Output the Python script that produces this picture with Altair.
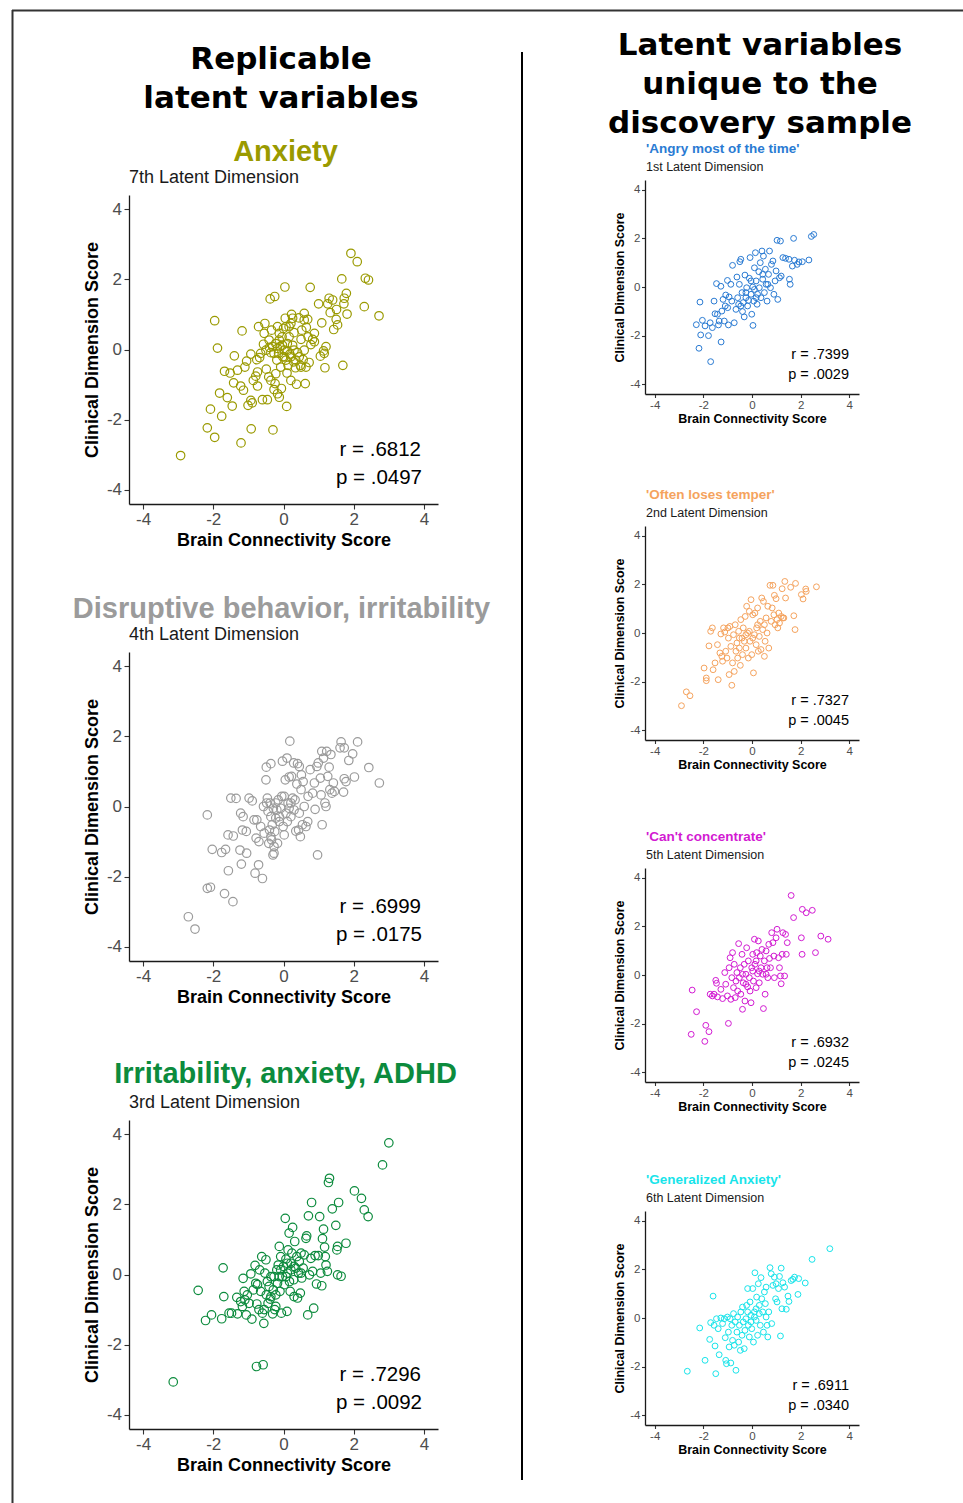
import altair as alt
import pandas as pd

# ---------------------------------------------------------------------------
# Scores per latent dimension: brain connectivity (x) vs clinical dimension (y)
# ---------------------------------------------------------------------------
anx_x = [-2.93, -2.17, -1.96, -2.08, -1.76, -1.82, -1.60, -1.46, -1.96, -1.88, -1.68, -1.52, -1.42, -1.40,
         -1.31, -1.18, -1.22, -1.14, -1.21, -1.10, -1.05, -1.01, -0.93, -0.92, -0.89, -0.93, -0.86, -0.79,
         -0.76, -0.74, -0.71, -0.68, -0.60, -0.57, -0.55, -0.53, -0.49, -0.46, -0.42, -0.40, -0.38, -0.36,
         -0.34, -0.30, -0.27, -0.25, -0.24, -0.22, -0.19, -0.17, -0.14, -0.12, -0.10, -0.08, -0.06, -0.04,
         -0.02, 0.00, 0.02, 0.04, 0.05, 0.07, 0.09, 0.10, 0.11, 0.13, 0.16, 0.18, 0.21, 0.23, 0.26, 0.29,
         0.30, 0.34, 0.37, 0.40, 0.44, 0.48, 0.50, 0.52, 0.56, 0.59, 0.62, 0.65, 0.69, 0.70, 0.73, 0.76,
         0.78, 0.83, 0.88, 1.00, 1.05, 1.09, 1.14, 1.18, 1.21, 1.26, 1.30, 1.33, 1.40, 1.43, 1.50, 1.51,
         1.54, 1.66, 1.69, 1.72, 1.73, 1.79, 1.81, 1.92, 2.10, 2.30, 2.33, 2.42, 2.72,
         -0.41, -0.31, -0.27, -0.17, -0.12, -0.03, 0.02, 0.11, 0.16, 0.21, 0.30, 0.35, 0.45, 0.50, 0.59,
         0.64, -0.22, -0.36, -0.65, -0.74, -0.50, -0.12, 0.07, 0.21, 0.26, 0.59, 0.88, 1.16, -0.17]
anx_y = [-3.02, -2.23, -2.50, -1.70, -1.90, -1.24, -1.37, -1.61, 0.82, 0.04, -0.62, -0.67, -0.95, -0.18,
         -0.59, 0.53, -1.04, -1.16, -2.66, -0.50, -0.33, -1.59, -1.45, -2.26, -1.52, -0.13, -0.88, -0.76,
         -0.29, -1.04, 0.65, -0.23, -1.43, 0.15, 0.46, 0.74, -0.56, -1.43, -0.78, 0.06, 1.44, -0.09,
         0.55, -2.29, -1.14, 1.51, -0.97, 0.17, -0.30, 0.65, -0.11, -1.36, 0.08, -0.50, -1.11, 0.36,
         -0.21, 0.60, -0.02, 1.78, 0.89, -0.30, -1.62, -0.67, 0.17, -0.45, 0.65, -0.13, -0.88, 1.00, 0.12, -0.35,
         0.48, -0.52, -0.99, -0.09, 0.90, -0.45, 0.29, 0.55, -0.29, 0.84, -0.97, 0.63, 0.86, 0.36, -0.37, 1.77,
         0.14, 0.29, 0.46, 1.30, -0.19, 0.76, -0.04, -0.52, 0.08, 1.30, 1.46, 1.05, 1.41, 0.57, 0.86, 1.14,
         0.70, 2.01, -0.45, 1.30, 1.46, 1.60, 1.01, 2.74, 2.50, 1.22, 2.03, 1.98, 0.96,
         0.27, 0.08, -0.11, 0.03, 0.27, 0.12, -0.21, -0.04, 0.36, -0.21, -0.02, -0.30, -0.21, -0.50, -0.02,
         -0.50, -0.69, -0.88, -0.11, -0.64, -0.02, 0.46, 0.65, 0.74, 0.89, 1.03, 0.22, -0.11, -1.26]

dis_x = [-2.71, -2.52, -2.17, -2.17, -2.08, -2.03, -1.76, -1.65, -1.68, -1.58, -1.57, -1.50, -1.44, -1.43,
         -1.35, -1.24, -1.22, -1.20, -1.17, -1.15, -1.05, -1.06, -0.98, -0.89, -0.84, -0.81, -0.78, -0.76,
         -0.71, -0.70, -0.65, -0.60, -0.57, -0.55, -0.50, -0.49, -0.46, -0.44, -0.42, -0.40, -0.38, -0.36,
         -0.34, -0.32, -0.30, -0.29, -0.27, -0.25, -0.22, -0.19, -0.17, -0.15, -0.12, -0.08, -0.05, -0.03,
         -0.01, 0.02, 0.05, 0.07, 0.10, 0.11, 0.13, 0.16, 0.18, 0.21, 0.23, 0.26, 0.29, 0.30, 0.33, 0.35,
         0.38, 0.40, 0.43, 0.45, 0.48, 0.50, 0.51, 0.54, 0.56, 0.59, 0.64, 0.69, 0.70, 0.76, 0.83, 0.88,
         0.90, 0.95, 0.97, 0.99, 1.05, 1.07, 1.09, 1.10, 1.14, 1.18, 1.21, 1.23, 1.26, 1.30, 1.32, 1.35,
         1.38, 1.42, 1.45, 1.61, 1.64, 1.71, 1.73, 1.73, 1.78, 1.86, 1.97, 2.02, 2.11, 2.43, 2.73,
         -0.48, -0.36, -0.22, -0.12, 0.02, 0.16, 0.21, 0.45, -0.36, -0.27]
dis_y = [-3.14, -3.49, -0.24, -2.33, -2.30, -1.22, -1.31, -1.22, -2.48, -0.81, -1.83, 0.24, -2.71, -0.84,
         0.23, -1.24, -0.19, -1.64, -0.67, -0.29, -1.33, -0.71, 0.24, 0.16, -0.38, -1.90, -0.90, -0.38,
         -1.66, -1.00, -0.57, -2.05, 0.00, -0.76, 0.76, 1.12, 0.24, -0.14, -1.05, -0.67, 0.10, 1.22,
         -0.95, -0.52, -1.38, -0.05, -1.33, -0.71, -0.33, -0.10, -1.05, 0.19, -0.29, -0.05, 0.29, 1.29,
         -0.57, -0.81, 0.76, -0.19, 1.38, -0.43, 0.10, 0.84, 1.86, -0.29, 0.86, 0.24, 1.24, -0.10, 0.19, -0.70,
         0.64, 1.22, -0.67, 1.14, -0.86, 0.48, 0.90, -0.52, 0.71, 0.00, -0.57, -0.43, 0.29, 1.05, 0.38, 0.67,
         -0.08, 1.14, -1.38, 1.24, 0.81, 0.33, 1.57, -0.52, 1.38, 0.10, 0.00, 1.57, 0.86, 1.12, 0.48, 1.48,
         0.38, 0.67, 0.43, 1.67, 1.84, 0.41, 1.67, 0.79, 0.71, 1.31, 1.50, 0.84, 1.84, 1.11, 0.67,
         0.10, -0.29, 0.10, -0.43, 0.29, -0.05, 0.10, -0.19, -0.86, -1.14]

irr_x = [-3.14, -2.43, -2.22, -2.05, -1.76, -1.72, -1.70, -1.55, -1.48, -1.33, -1.31, -1.22, -1.17, -1.15,
         -1.12, -1.10, -1.06, -1.03, -0.98, -0.93, -0.90, -0.86, -0.81, -0.79, -0.77, -0.76, -0.74, -0.70,
         -0.68, -0.65, -0.62, -0.60, -0.58, -0.56, -0.53, -0.50, -0.49, -0.46, -0.44, -0.41, -0.38, -0.36,
         -0.31, -0.29, -0.27, -0.25, -0.22, -0.19, -0.17, -0.15, -0.12, -0.10, -0.08, -0.06, -0.03, 0.00,
         0.02, 0.05, 0.07, 0.10, 0.11, 0.13, 0.16, 0.17, 0.19, 0.21, 0.24, 0.26, 0.29, 0.30, 0.32, 0.35,
         0.38, 0.40, 0.43, 0.45, 0.48, 0.50, 0.52, 0.56, 0.59, 0.64, 0.66, 0.69, 0.71, 0.74, 0.78, 0.80,
         0.83, 0.86, 0.90, 0.94, 0.99, 1.03, 1.06, 1.09, 1.11, 1.14, 1.17, 1.19, 1.21, 1.25, 1.28, 1.31,
         1.39, 1.49, 1.52, 1.54, 1.54, 1.57, 1.64, 1.78, 2.02, 2.22, 2.30, 2.41, 2.82, 3.00,
         -0.08, 0.07, 0.21, 0.30, 0.11, 0.50, -0.12, -0.22, -0.36, -0.55]
irr_y = [-3.06, -0.45, -1.31, -1.15, -1.26, 0.19, -0.63, -1.10, -1.10, -0.65, -1.12, -0.77, -0.91, -0.11,
         -0.48, -0.72, -1.15, -0.58, -0.82, 0.02, -1.27, -0.44, 0.26, -0.25, -2.62, -0.84, -0.29, -1.00,
         0.13, -0.48, 0.51, -1.10, -2.57, -1.39, 0.04, 0.42, -0.58, -0.20, -0.82, -0.34, -0.70, -0.06,
         -1.12, -0.44, -0.06, -1.00, -0.58, 0.13, -0.25, 0.27, 0.80, -0.48, 0.51, -1.10, -0.06, 0.23,
         -0.29, 1.60, 0.44, -1.05, 0.04, 0.70, 1.18, -0.20, -0.48, 0.32, 0.61, 1.34, -0.15, -0.63, 0.94, 0.18,
         0.51, -0.67, 0.04, 0.37, -0.53, 0.61, -0.10, 0.18, 0.56, 1.03, 1.10, -1.15, 1.67, -0.01, 0.46, 2.05,
         0.09, -0.96, 0.54, -0.27, 0.54, 1.65, 0.04, -0.32, 1.02, 1.29, 0.78, 0.51, 0.27, 0.09, 2.62, 2.74,
         1.87, 1.40, 0.70, 0.80, -0.01, 2.05, -0.05, 0.89, 2.38, 2.17, 1.84, 1.65, 3.12, 3.75,
         0.13, -0.06, 0.13, 0.23, 0.32, 0.04, -0.06, -0.91, -0.63, -1.00]

ang_x = [-1.70, -2.18, -2.11, -2.29, -2.14, -2.04, -1.93, -1.79, -1.72, -1.63, -1.56, -1.52, -1.46, -1.42,
         -1.38, -1.35, -1.28, -1.27, -1.24, -1.19, -1.14, -1.10, -1.08, -1.01, -1.00, -0.97, -0.94, -0.87,
         -0.83, -0.80, -0.73, -0.66, -0.62, -0.59, -0.55, -0.52, -0.50, -0.46, -0.41, -0.39, -0.36, -0.32,
         -0.29, -0.25, -0.22, -0.18, -0.14, -0.11, -0.08, -0.04, -0.01, 0.03, 0.04, 0.07, 0.10, 0.14, 0.17,
         0.21, 0.23, 0.28, 0.30, 0.34, 0.37, 0.41, 0.44, 0.47, 0.51, 0.55, 0.58, 0.62, 0.68, 0.72, 0.76,
         0.80, 0.86, 0.90, 0.95, 0.99, 1.03, 1.06, 1.13, 1.17, 1.20, 1.27, 1.38, 1.52, 1.54, 1.57, 1.66,
         1.71, 1.75, 1.86, 1.93, 2.07, 2.34, 2.44, 2.54,
         -0.25, -0.04, 0.10, 0.17, -0.46, 0.44, 0.65]
ang_y = [-3.07, -2.52, -1.97, -1.55, -0.62, -1.37, -1.60, -2.00, -1.47, -1.67, -0.58, -1.10, 0.14, -1.12,
         -1.56, -1.40, 0.03, -2.26, -0.99, -0.51, -1.40, -0.78, -0.33, 0.27, -0.85, -1.56, -0.41, 0.11,
         -0.58, 0.89, -1.47, -0.92, 0.41, -0.44, -0.71, 0.11, 1.04, 1.14, -0.23, -1.01, -0.64, -1.23,
         0.49, -0.44, -0.03, -0.78, -0.55, 0.36, 1.21, -0.30, -1.12, 0.00, -1.58, -0.58, 0.79, 1.41, 0.25,
         -0.71, -0.30, 0.63, -0.03, 1.00, -0.44, 1.48, 0.32, 1.27, -0.23, 0.73, 0.11, -0.58, 0.52, 1.48, -0.03,
         0.93, 1.07, -0.30, 0.25, 0.66, 1.92, -0.51, 0.38, 1.89, 0.45, 1.21, 1.18, 1.14, 0.32, 0.11, 0.86,
         2.00, 1.10, 0.93, 1.03, 1.04, 1.11, 2.08, 2.16,
         -0.23, 0.25, -0.10, -0.44, -0.78, 0.52, 0.11]

ofl_x = [-2.90, -2.70, -2.55, -1.97, -1.88, -1.88, -1.77, -1.70, -1.63, -1.60, -1.52, -1.42, -1.39, -1.32,
         -1.28, -1.24, -1.21, -1.17, -1.12, -1.08, -1.03, -0.99, -0.97, -0.94, -0.91, -0.87, -0.83, -0.80,
         -0.76, -0.73, -0.69, -0.66, -0.62, -0.59, -0.55, -0.52, -0.48, -0.46, -0.41, -0.39, -0.36, -0.32,
         -0.28, -0.25, -0.22, -0.18, -0.15, -0.11, -0.08, -0.04, -0.01, 0.03, 0.06, 0.10, 0.12, 0.17, 0.19,
         0.23, 0.26, 0.30, 0.34, 0.37, 0.40, 0.44, 0.47, 0.51, 0.54, 0.58, 0.62, 0.65, 0.69, 0.74, 0.79,
         0.83, 0.86, 0.90, 0.92, 0.95, 0.99, 1.03, 1.06, 1.10, 1.13, 1.20, 1.24, 1.27, 1.31, 1.35, 1.38,
         1.59, 1.72, 1.77, 1.79, 2.03, 2.10, 2.21, 2.23, 2.65,
         -0.11, 0.03, -0.25, 0.23, 0.51, -0.52]
ofl_y = [-2.99, -2.42, -2.58, -1.44, -1.85, -1.96, -0.53, 0.07, 0.21, -1.51, -1.23, -0.48, -1.92, -0.82,
         -0.04, -0.96, -1.16, 0.21, 0.04, -0.75, -1.03, 0.21, -0.21, -1.71, 0.27, -0.55, -2.15, -1.23,
         -0.07, -1.58, 0.34, -0.75, -0.41, -1.03, 0.07, -0.62, -1.33, 0.55, -0.21, -0.89, 0.21, -0.34,
         0.68, -0.62, 1.10, 0.00, -1.03, 0.89, -0.34, 1.37, -0.89, 0.75, -1.64, -0.07, 0.82, -0.48, 0.21,
         1.03, -0.75, -0.14, 0.48, -0.68, 1.44, 0.14, 1.30, -0.96, -0.34, 0.62, 0.00, 1.10, -0.62, 1.96, 0.48,
         1.03, 1.96, 0.75, 1.55, 0.34, 1.41, 0.55, 0.21, 0.82, 0.41, 0.68, 1.82, 0.62, 0.62, 2.12, 1.44,
         1.88, 0.71, 0.14, 2.04, 1.58, 1.40, 1.81, 1.71, 1.90,
         0.07, -0.21, -0.07, 0.34, 0.34, -0.21]

cnc_x = [-2.50, -2.46, -2.28, -1.94, -1.90, -1.77, -1.72, -1.63, -1.56, -1.49, -1.46, -1.42, -1.28, -1.21,
         -1.12, -1.08, -1.01, -0.97, -0.94, -0.90, -0.87, -0.83, -0.80, -0.76, -0.73, -0.69, -0.66, -0.62,
         -0.59, -0.55, -0.52, -0.48, -0.46, -0.41, -0.39, -0.36, -0.32, -0.29, -0.25, -0.22, -0.18, -0.15,
         -0.11, -0.08, -0.04, -0.01, 0.03, 0.06, 0.10, 0.12, 0.17, 0.19, 0.23, 0.26, 0.30, 0.34, 0.37, 0.41,
         0.44, 0.47, 0.51, 0.54, 0.58, 0.62, 0.65, 0.69, 0.72, 0.76, 0.81, 0.86, 0.90, 0.92, 0.99, 1.03,
         1.09, 1.13, 1.17, 1.20, 1.24, 1.27, 1.34, 1.38, 1.41, 1.45, 1.61, 1.71, 2.03, 2.06, 2.07, 2.23,
         2.48, 2.61, 2.83, 3.13,
         0.03, 0.30, -0.25, 0.17, -0.39, 0.58]
cnc_y = [-2.44, -0.62, -1.51, -2.73, -2.07, -2.33, -0.79, -0.86, -0.79, -0.22, -0.34, -0.90, -0.59, -0.97,
         0.10, -0.38, -0.86, -1.99, 0.30, 0.71, -1.00, -0.11, 0.92, -0.52, 0.44, -0.93, -0.25, 0.10,
         -0.66, 1.29, -0.11, 0.30, -0.79, 0.85, -1.41, -0.32, 0.44, -1.07, 0.03, 1.12, -0.49, 0.58,
         -0.11, -0.66, -1.14, 0.30, 0.85, -0.25, 1.47, 0.44, -0.52, 0.92, 0.05, 1.40, -0.32, 0.78, 0.30, 1.05,
         0.03, -1.38, 0.58, -0.79, 0.99, 0.30, -0.11, 1.26, 0.68, 0.30, 1.74, 1.33, 0.78, -0.11, 1.53, 1.88,
         0.71, 0.30, -0.04, -0.36, 0.85, 1.74, -0.04, 1.67, 0.85, 1.33, 3.27, 2.36, 1.53, 0.85, 2.70, 2.56,
         2.66, 0.92, 1.60, 1.47,
         0.16, 0.16, -0.38, 0.58, 0.03, 0.03]

gen_x = [-2.66, -2.15, -1.93, -1.74, -1.70, -1.60, -1.56, -1.52, -1.49, -1.46, -1.39, -1.35, -1.28, -1.21,
         -1.14, -1.10, -1.08, -1.05, -1.01, -0.97, -0.94, -0.90, -0.87, -0.83, -0.80, -0.76, -0.73, -0.69,
         -0.66, -0.62, -0.59, -0.55, -0.52, -0.48, -0.46, -0.41, -0.39, -0.36, -0.32, -0.29, -0.25, -0.22,
         -0.18, -0.15, -0.11, -0.08, -0.04, -0.01, 0.03, 0.06, 0.10, 0.12, 0.17, 0.19, 0.23, 0.26, 0.30,
         0.34, 0.37, 0.40, 0.44, 0.47, 0.51, 0.55, 0.58, 0.62, 0.65, 0.69, 0.74, 0.79, 0.81, 0.86, 0.92,
         0.97, 0.99, 1.03, 1.09, 1.13, 1.17, 1.20, 1.23, 1.27, 1.34, 1.41, 1.48, 1.52, 1.61, 1.68, 1.75,
         1.89, 1.92, 2.19, 2.47, 3.20,
         -0.04, 0.10, 0.17, -0.18, 0.30, 0.58]
gen_y = [-2.19, -0.41, -1.74, -0.88, -0.19, 0.90, -0.30, -1.15, -2.29, -0.03, -0.44, -1.51, 0.00, -0.23,
         -0.03, -0.81, -1.74, -1.88, 0.04, -0.58, -1.19, -0.03, -1.85, -0.30, -0.92, 0.18, -1.12, -0.16,
         -2.15, -0.58, 0.04, -0.99, -0.30, -1.33, 0.25, -0.71, 0.45, -0.16, -1.26, -0.51, -0.03, 0.52,
         1.21, -0.30, -0.78, 0.66, 0.11, -0.44, 1.21, -0.99, 0.25, 1.86, -0.10, 0.86, -0.71, 1.41, 0.52,
         -0.30, 1.66, 0.79, 0.25, -0.58, 1.07, 0.59, 1.27, -0.30, -0.78, 0.25, 2.07, 1.82, -0.23, 1.34, 1.68,
         0.79, 1.41, 0.66, 1.21, 1.71, -0.74, 2.05, 0.38, 1.45, 1.27, 0.36, 0.90, 0.68, 1.54, 1.59, 1.68,
         0.97, 1.62, 1.44, 2.41, 2.85,
         -0.16, 0.04, 0.38, 0.25, 0.18, 0.04]

# Panel texts
left_heading = ["Replicable", "latent variables"]
right_heading = ["Latent variables", "unique to the", "discovery sample"]
x_title = "Brain Connectivity Score"
y_title = "Clinical Dimension Score"
tick_values = [-4, -2, 0, 2, 4]

W, H = 963, 1503
FONT = "Liberation Sans"

# name, subtitle, r, p, xs, ys, colour, plot left, plot top, large?, title gap, title centre shift
panels = [
    ("Anxiety", "7th Latent Dimension", ".6812", ".0497", anx_x, anx_y, "#9A9A00", 129, 195, True, 45, 2),
    ("Disruptive behavior, irritability", "4th Latent Dimension", ".6999", ".0175", dis_x, dis_y,
     "#9B9B9B", 129, 652, True, 45, -2),
    ("Irritability, anxiety, ADHD", "3rd Latent Dimension", ".7296", ".0092", irr_x, irr_y,
     "#0C8B3D", 129, 1120, True, 48, 2),
    ("'Angry most of the time'", "1st Latent Dimension", ".7399", ".0029", ang_x, ang_y,
     "#2A7BD3", 645, 180, False, 32, 0),
    ("'Often loses temper'", "2nd Latent Dimension", ".7327", ".0045", ofl_x, ofl_y,
     "#F5A35E", 645, 526, False, 32, 0),
    ("'Can't concentrate'", "5th Latent Dimension", ".6932", ".0245", cnc_x, cnc_y,
     "#D21AD2", 645, 868, False, 32, 0),
    ("'Generalized Anxiety'", "6th Latent Dimension", ".6911", ".0340", gen_x, gen_y,
     "#18E4EA", 645, 1211, False, 32, 0),
]


def text_at(text, x, y, size, color="#000000", weight="normal", align="left", font=FONT):
    return alt.Chart(alt.Data(values=[{}])).mark_text(
        text=text, align=align, baseline="middle", fontSize=size, fontWeight=weight,
        color=color, font=font,
    ).encode(x=alt.value(x), y=alt.value(y))


layers = []
for name, sub, r, p, xs, ys, col, left, top, big, gap, shift in panels:
    side = 309 if big else 214
    right, bottom = left + side, top + side
    df = pd.DataFrame({"bx": xs, "cy": ys})
    common = dict(
        values=tick_values, grid=False, labelExpr="'' + datum.value",
        domainColor="#1A1A1A", domainWidth=1.3, tickColor="#333333", tickWidth=1.1,
        tickSize=5 if big else 3.5, labelFont=FONT, labelColor="#4D4D4D",
        labelFontSize=17 if big else 11.5, labelPadding=2.5 if big else 1.5,
        titleFont=FONT, titleFontWeight="bold", titleColor="#000000",
        titleFontSize=18 if big else 12.5, labelFlush=False,
    )
    pts = alt.Chart(df).mark_point(
        shape="circle", filled=False, size=72 if big else 34,
        strokeWidth=1.2 if big else 1.0, color=col, opacity=1,
    ).encode(
        x=alt.X("bx:Q", scale=alt.Scale(domain=[-4.4, 4.4], range=[left, right], nice=False, zero=False),
                axis=alt.Axis(orient="bottom", offset=bottom - H, title=x_title,
                              titlePadding=4 if big else 1.5, **common)),
        y=alt.Y("cy:Q", scale=alt.Scale(domain=[-4.4, 4.4], range=[bottom, top], nice=False, zero=False),
                axis=alt.Axis(orient="left", offset=-left, title=y_title,
                              titlePadding=5 if big else 3, **common)),
    )
    layers.append(pts)

    if big:
        layers.append(text_at(name, left + side / 2 + shift, top - gap + 2, 29, col, "bold", "center"))
        layers.append(text_at(sub, left, top - 17, 18, "#1A1A1A"))
        layers.append(text_at(f"r = {r}", left + 292, top + 255, 20.5, align="right"))
        layers.append(text_at(f"p = {p}", left + 293, top + 283, 20.5, align="right"))
    else:
        layers.append(text_at(name, left + 1, top - gap + 1, 13.5, col, "bold"))
        layers.append(text_at(sub, left + 1, top - 13, 12.5, "#1A1A1A"))
        layers.append(text_at(f"r = {r}", left + 204, top + 175, 14.5, align="right"))
        layers.append(text_at(f"p = {p}", left + 204, top + 195, 14.5, align="right"))

# Column headings
for i, line in enumerate(left_heading):
    layers.append(text_at(line, 281, 60 + 39 * i, 31, weight="bold", align="center", font="DejaVu Sans"))
for i, line in enumerate(right_heading):
    layers.append(text_at(line, 760, 46 + 39 * i, 31, weight="bold", align="center", font="DejaVu Sans"))

# Frame lines and the column divider
rule_src = alt.Data(values=[{}])
layers.append(alt.Chart(rule_src).mark_rule(color="#000000", strokeWidth=2).encode(
    x=alt.value(522), y=alt.value(52), y2=alt.value(1480)))
layers.append(alt.Chart(rule_src).mark_rule(color="#333333", strokeWidth=2).encode(
    x=alt.value(12), x2=alt.value(W), y=alt.value(10.5)))
layers.append(alt.Chart(rule_src).mark_rule(color="#333333", strokeWidth=2).encode(
    x=alt.value(12.5), y=alt.value(10), y2=alt.value(H)))

chart = alt.layer(*layers).resolve_scale(
    x="independent", y="independent"
).resolve_axis(
    x="independent", y="independent"
).properties(
    width=W, height=H, padding=0, autosize=alt.AutoSizeParams(type="none"), background="white",
).configure_view(stroke=None)

chart.save("out.html", embed_options={"renderer": "svg", "actions": False})
